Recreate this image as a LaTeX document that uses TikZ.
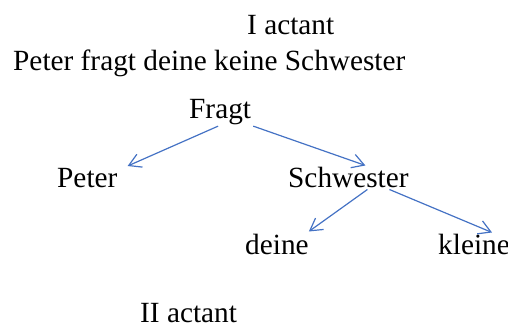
\documentclass[tikz,border=0pt]{standalone}
\usepackage{fontspec}
\setmainfont{Liberation Serif}
\usetikzlibrary{arrows.meta}
\definecolor{linkblue}{RGB}{68,114,196}
\tikzset{
  word/.style={inner sep=0pt, anchor=base west, font=\fontsize{29.3}{35}\selectfont},
  dep/.style={draw=linkblue, line width=1.2pt, -{Straight Barb[length=12pt,width=14pt]}}
}
\begin{document}
\begin{tikzpicture}[x=1pt, y=-1pt]
  \useasboundingbox (0,0) rectangle (508,325);

  % labels and the sentence
  \node[word] (act1) at (247,34) {I actant};
  \node[word] (sent) at (13,70) {Peter fragt deine keine Schwester};
  \node[word] (act2) at (140,322) {II actant};

  % dependency tree
  \node[word] (fragt) at (189,118) {Fragt};
  \node[word] (peter) at (57,187) {Peter};
  \node[word] (schw) at (288,187) {Schwester};
  \node[word] (deine) at (245,254) {deine};
  \node[word] (kleine) at (438,254) {kleine};

  \draw[dep] ([shift={(-2,1.6)}]fragt.south) -- ([shift={(10,-1.6)}]peter.north east);
  \draw[dep] ([shift={(2,1.6)}]fragt.south east) -- ([shift={(17,-1)}]schw.north);
  \draw[dep] ([shift={(19,2)}]schw.south) -- ([shift={(0,-2)}]deine.north east);
  \draw[dep] ([shift={(41,2)}]schw.south) -- ([shift={(18,-1)}]kleine.north);
\end{tikzpicture}
\end{document}
